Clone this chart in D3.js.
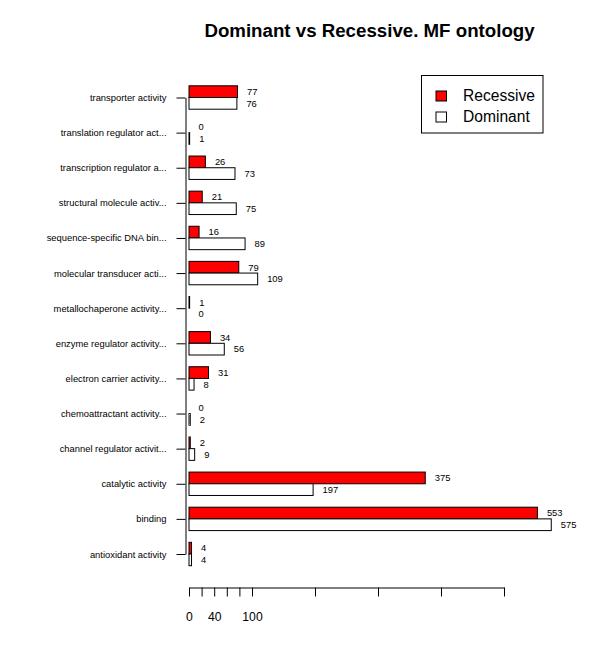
<!DOCTYPE html>
<html><head><meta charset="utf-8">
<script src="https://cdn.jsdelivr.net/npm/d3@7"></script>
<style>body{margin:0;background:#fff}svg{display:block}text{font-family:"Liberation Sans",Arial,Helvetica,sans-serif}</style>
</head><body><div id="chart"></div>
<script>
const categories = ["transporter activity","translation regulator act...","transcription regulator a...","structural molecule activ...","sequence-specific DNA bin...","molecular transducer acti...","metallochaperone activity...","enzyme regulator activity...","electron carrier activity...","chemoattractant activity...","channel regulator activit...","catalytic activity","binding","antioxidant activity"];
const recessive = [77,0,26,21,16,79,1,34,31,0,2,375,553,4];
const dominant  = [76,1,73,75,89,109,0,56,8,2,9,197,575,4];
const seriesNames = ["Recessive","Dominant"];
const seriesColors = ["#ff0000","#ffffff"];
const xTicks = [0,20,40,60,80,100,200,300,400,500];
const xTickLabelsShown = [0,40,100];
const title = "Dominant vs Recessive. MF ontology";

const W = 600, H = 652;
const svg = d3.select("#chart").append("svg").attr("width", W).attr("height", H);

const x = d3.scaleLinear().domain([0, 500]).range([189, 504]);
const y = d3.scalePoint().domain(categories).range([97.5, 554]);
const barH = 11.7;

svg.append("text").attr("x", 369.5).attr("y", 37).attr("text-anchor", "middle")
  .attr("font-size", 18.7).attr("font-weight", "bold").text(title);

// bars
const series = [recessive, dominant];
series.forEach((vals, si) => {
  svg.append("g").selectAll("rect").data(vals).join("rect")
    .attr("x", x(0))
    .attr("y", (d, i) => y(categories[i]) - barH + si * barH)
    .attr("width", d => x(d) - x(0))
    .attr("height", barH)
    .attr("fill", seriesColors[si])
    .attr("stroke", "#000").attr("stroke-width", 1);
  svg.append("g").selectAll("text").data(vals).join("text")
    .attr("x", d => x(d) + 9.5)
    .attr("y", (d, i) => y(categories[i]) - barH / 2 + si * barH)
    .attr("dy", "0.35em")
    .attr("font-size", 9.4).text(d => d);
});

// y axis
const yAxis = svg.append("g").attr("transform", "translate(185.5,0)")
  .call(d3.axisLeft(y).tickSizeInner(9).tickSizeOuter(0).tickPadding(10));
yAxis.selectAll("text").attr("font-size", 9.4).attr("font-family", '"Liberation Sans",Arial,sans-serif').attr("fill", "#000");
yAxis.selectAll("line,path").attr("stroke", "#000");

// x axis
const xAxis = svg.append("g").attr("transform", "translate(0,587.5)")
  .call(d3.axisBottom(x).tickValues(xTicks).tickSizeInner(9).tickSizeOuter(0).tickPadding(16)
    .tickFormat(d => xTickLabelsShown.includes(d) ? String(d) : ""));
xAxis.selectAll("text").attr("font-size", 12.2).attr("font-family", '"Liberation Sans",Arial,sans-serif').attr("fill", "#000");
xAxis.selectAll("line,path").attr("stroke", "#000");

// legend
const lg = svg.append("g");
lg.append("rect").attr("x", 421.5).attr("y", 75.5).attr("width", 121.5).attr("height", 57.5)
  .attr("fill", "#fff").attr("stroke", "#000");
seriesNames.forEach((n, i) => {
  const cy = 96 + i * 21;
  lg.append("rect").attr("x", 436).attr("y", cy - 5).attr("width", 10.5).attr("height", 10)
    .attr("fill", seriesColors[i]).attr("stroke", "#000");
  lg.append("text").attr("x", 463).attr("y", cy).attr("dy", "0.35em")
    .attr("font-size", 15.6).text(n);
});
</script></body></html>
